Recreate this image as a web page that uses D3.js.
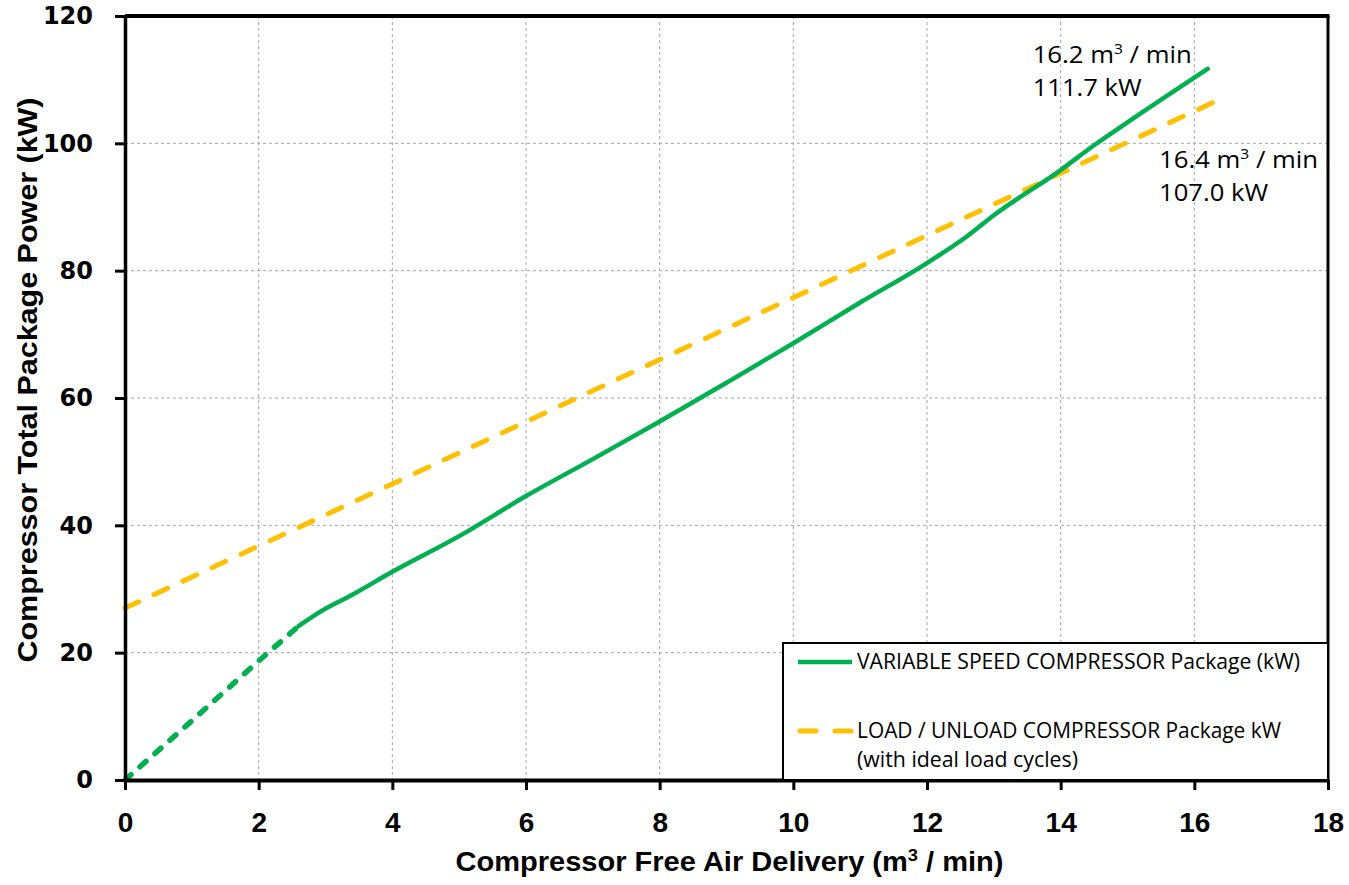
<!DOCTYPE html>
<html>
<head>
<meta charset="utf-8">
<script src="https://cdn.jsdelivr.net/npm/d3@7"></script>
<style>
  body { margin: 0; background: #fff; }
  svg { display: block; }
</style>
</head>
<body>
<svg id="chart"></svg>
<script>
// axis ticks
const xTicks = [0, 2, 4, 6, 8, 10, 12, 14, 16, 18];
const yTicks = [0, 20, 40, 60, 80, 100, 120];

// variable speed compressor, low flow part (dashed) and main curve (solid)
const vsdLow = [[0, 0], [1, 9.3], [2, 18.7], [2.6, 24.2]];
const vsdMain = [[2.6, 24.2], [2.9, 26.3], [3.4, 29.1], [4, 32.7], [5, 38.3], [6, 44.6],
  [7, 50.4], [8, 56.3], [9, 62.4], [10, 68.6], [11, 75.0], [12, 81.2], [12.6, 85.4],
  [13, 88.7], [14, 95.8], [14.5, 99.7], [15, 103.3], [16.2, 111.7]];

// load / unload compressor
const loadUnload = [[0, 27.0], [16.4, 107.0]];

const legendNames = ["VARIABLE SPEED COMPRESSOR Package (kW)", "LOAD / UNLOAD COMPRESSOR Package kW", "(with ideal load cycles)"];

var margin = {top: 16, left: 125, right: 21, bottom: 105},
    width = 1349,
    height = 885;
var w = width - margin.left - margin.right,
    h = height - margin.top - margin.bottom;

var green = "#00B050", yellow = "#FFC000";
var boldFont = "'Liberation Sans', Arial, sans-serif";
var plain = "'Open Sans', 'Noto Sans', sans-serif";

let svg = d3.select('#chart')
    .attr('width', width)
    .attr('height', height);

let g = svg.append('g')
    .attr('transform', `translate(${margin.left},${margin.top})`);

var x = d3.scaleLinear().domain([0, 18]).range([0, w]);
var y = d3.scaleLinear().domain([0, 120]).range([h, 0]);

// grid
g.append('g').selectAll('line')
    .data(xTicks.filter(d => d > 0 && d < 18))
    .enter().append('line')
    .attr('x1', d => x(d)).attr('x2', d => x(d))
    .attr('y1', 0).attr('y2', h)
    .attr('stroke', '#a6a6a6').attr('stroke-width', 1).attr('stroke-dasharray', '3,3');
g.append('g').selectAll('line')
    .data(yTicks.filter(d => d > 0 && d < 120))
    .enter().append('line')
    .attr('y1', d => y(d)).attr('y2', d => y(d))
    .attr('x1', 0).attr('x2', w)
    .attr('stroke', '#a6a6a6').attr('stroke-width', 1).attr('stroke-dasharray', '3,3');

var line = d3.line().x(d => x(d[0])).y(d => y(d[1]));
var curve = d3.line().x(d => x(d[0])).y(d => y(d[1])).curve(d3.curveMonotoneX);

g.append('path').datum(loadUnload)
    .attr('d', line)
    .attr('fill', 'none').attr('stroke', yellow).attr('stroke-width', 5)
    .attr('stroke-linecap', 'round').attr('stroke-dasharray', '15,17');

g.append('path').datum(vsdLow)
    .attr('d', line)
    .attr('fill', 'none').attr('stroke', green).attr('stroke-width', 5.5)
    .attr('stroke-linecap', 'round').attr('stroke-dasharray', '8,12');

g.append('path').datum(vsdMain)
    .attr('d', curve)
    .attr('fill', 'none').attr('stroke', green).attr('stroke-width', 4.5)
    .attr('stroke-linecap', 'round');

// axes
let xAxis = g.append('g')
    .attr('transform', `translate(0,${h})`)
    .call(d3.axisBottom(x).tickValues(xTicks).tickSize(10).tickPadding(22).tickSizeOuter(0));
xAxis.select('.domain').attr('stroke', '#000').attr('stroke-width', 4);
xAxis.selectAll('.tick line').attr('stroke', '#000').attr('stroke-width', 3);
xAxis.selectAll('text')
    .attr('fill', '#000')
    .style('font-family', boldFont).style('font-weight', 'bold').style('font-size', '28px');

let yAxis = g.append('g')
    .call(d3.axisLeft(y).tickValues(yTicks).tickSize(10).tickPadding(22).tickSizeOuter(0));
yAxis.select('.domain').attr('stroke', '#000').attr('stroke-width', 3.5);
yAxis.selectAll('.tick line').attr('stroke', '#000').attr('stroke-width', 3);
yAxis.selectAll('text')
    .attr('fill', '#000')
    .style('font-family', "'DejaVu Sans', Verdana, sans-serif").style('font-weight', 'bold').style('font-size', '24px');

// frame top and right
g.append('line').attr('x1', 0).attr('x2', w + 1.5).attr('y1', 0).attr('y2', 0)
    .attr('stroke', '#000').attr('stroke-width', 4);
g.append('line').attr('x1', w).attr('x2', w).attr('y1', 0).attr('y2', h)
    .attr('stroke', '#000').attr('stroke-width', 3);

// axis titles
let xt = svg.append('text')
    .attr('x', margin.left + w / 2 + 3).attr('y', 871)
    .attr('text-anchor', 'middle')
    .style('font-family', boldFont).style('font-weight', 'bold').style('font-size', '27px');
xt.append('tspan').text('Compressor Free Air Delivery (m');
xt.append('tspan').text('3').attr('dy', -10).style('font-size', '17px');
xt.append('tspan').text(' / min)').attr('dy', 10);
xt.attr('textLength', 548).attr('lengthAdjust', 'spacingAndGlyphs');

svg.append('text')
    .attr('transform', `translate(37,380) rotate(-90)`)
    .attr('text-anchor', 'middle')
    .style('font-family', boldFont).style('font-weight', 'bold').style('font-size', '27px')
    .attr('textLength', 565).attr('lengthAdjust', 'spacingAndGlyphs')
    .text('Compressor Total Package Power (kW)');

// legend
let lg = svg.append('g');
lg.append('rect')
    .attr('x', 783).attr('y', 643).attr('width', margin.left + w - 783).attr('height', margin.top + h - 643)
    .attr('fill', '#fff').attr('stroke', '#000').attr('stroke-width', 2);
lg.append('line').attr('x1', 798).attr('x2', 852).attr('y1', 662).attr('y2', 662)
    .attr('stroke', green).attr('stroke-width', 4.5);
lg.append('line').attr('x1', 800).attr('x2', 852).attr('y1', 731).attr('y2', 731)
    .attr('stroke', yellow).attr('stroke-width', 5).attr('stroke-linecap', 'round')
    .attr('stroke-dasharray', '16,19');
var legendPos = [[669, 443], [738, 424], [767, 221]];
legendNames.forEach(function(t, i) {
    lg.append('text')
      .attr('x', 857).attr('y', legendPos[i][0])
      .attr('textLength', legendPos[i][1]).attr('lengthAdjust', 'spacingAndGlyphs')
      .style('font-family', plain).style('font-size', '21px')
      .text(t);
});

// end point labels
function endLabel(px, py, flow, kw) {
    let t = svg.append('text').attr('x', px).attr('y', py)
        .style('font-family', plain).style('font-size', '23px');
    t.append('tspan').text(flow + ' m');
    t.append('tspan').text('3').attr('dy', -9).style('font-size', '14px');
    t.append('tspan').text(' / min').attr('dy', 9);
    t.attr('textLength', 159).attr('lengthAdjust', 'spacingAndGlyphs');
    svg.append('text').attr('x', px).attr('y', py + 33)
        .style('font-family', plain).style('font-size', '23px')
        .attr('textLength', 109).attr('lengthAdjust', 'spacingAndGlyphs')
        .text(kw.toFixed(1) + ' kW');
}
var vEnd = vsdMain[vsdMain.length - 1], lEnd = loadUnload[loadUnload.length - 1];
endLabel(margin.left + x(vEnd[0]) - 175, margin.top + y(vEnd[1]) - 6, vEnd[0].toFixed(1), vEnd[1]);
endLabel(margin.left + x(lEnd[0]) - 62, margin.top + y(lEnd[1]) + 69, lEnd[0].toFixed(1), lEnd[1]);
</script>
</body>
</html>
